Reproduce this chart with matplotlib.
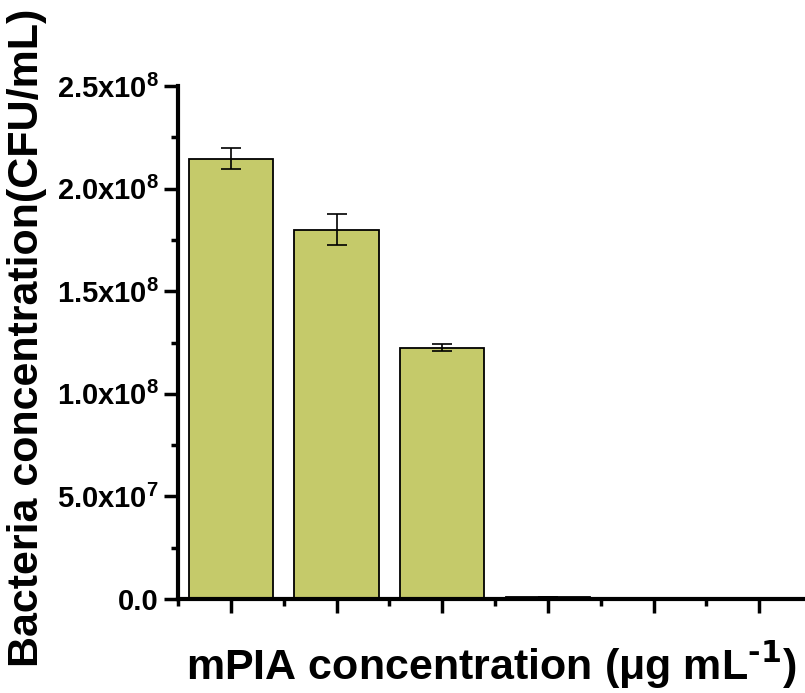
import matplotlib
matplotlib.use('Agg')
import matplotlib.pyplot as plt
import numpy as np
from matplotlib.ticker import MultipleLocator, FixedLocator

plt.rcParams['font.family'] = ['Liberation Sans', 'DejaVu Sans']
plt.rcParams['font.weight'] = 'bold'
plt.rcParams['mathtext.default'] = 'regular'

# values
positions = [1, 2, 3, 4, 5, 6]
conc = [2.146e8, 1.80e8, 1.225e8, 1.2e6, 3e5, 0.0]
err = [0.05e8, 0.074e8, 0.017e8, 0.0, 0.0, 0.0]
ytick_vals = [0, 5e7, 1e8, 1.5e8, 2e8, 2.5e8]
ytick_labels = ['0.0', '5.0x10$^7$', '1.0x10$^8$', '1.5x10$^8$',
                '2.0x10$^8$', '2.5x10$^8$']

fig = plt.figure(figsize=(8.05, 6.93), dpi=100)
ax = fig.add_axes([178/805, 1 - 599/693, (812 - 178)/805, (599 - 86)/693])

ax.bar(positions, conc, width=0.8, color='#c5ca6a', edgecolor='black',
       linewidth=1.3, yerr=err, capsize=7,
       error_kw=dict(elinewidth=1.2, capthick=1.2, ecolor='black'))

ax.set_xlim(0.5, 6.5)
ax.set_ylim(0, 2.5e8)
ax.set_xticks(positions)
ax.set_xticklabels([])
ax.xaxis.set_minor_locator(FixedLocator(np.arange(0.5, 7, 1)))
ax.set_yticks(ytick_vals)
ax.set_yticklabels(ytick_labels)
ax.yaxis.set_minor_locator(MultipleLocator(2.5e7))

for s in ['top', 'right']:
    ax.spines[s].set_visible(False)
for s in ['left', 'bottom']:
    ax.spines[s].set_linewidth(3)

ax.tick_params(which='major', direction='out', length=10, width=2.5,
               labelsize=21, pad=4)
ax.tick_params(which='minor', direction='out', length=5, width=2.5)

fig.text(27/805, 1 - 667/693, 'Bacteria concentration(CFU/mL)', fontsize=31,
         fontweight='bold', rotation=90, ha='center', va='bottom')
fig.text(491/805, 1 - 680/693, r'mPIA concentration (μg mL$^{\text{-1}}$)',
         fontsize=31, fontweight='bold', ha='center', va='baseline')

fig.savefig('out.png', dpi=100)
